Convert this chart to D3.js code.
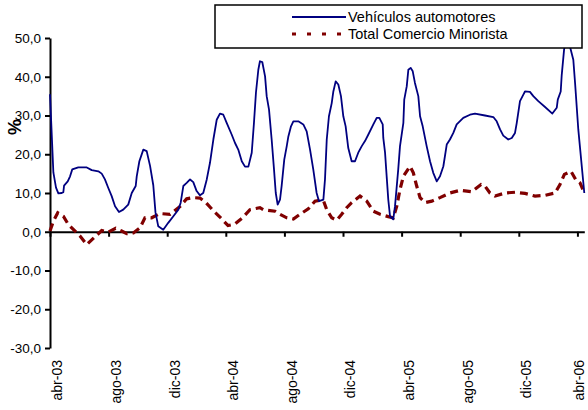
<!DOCTYPE html>
<html lang="es">
<head>
<meta charset="UTF-8">
<title>Vehículos automotores vs Total Comercio Minorista</title>
<script src="https://d3js.org/d3.v7.min.js"></script>
<style>
  body { margin: 0; background: #fff; }
  svg { display: block; font-family: Arial, "Liberation Sans", sans-serif; }
</style>
</head>
<body>
<div id="chart"></div>
<script>
// months counted from abr-03
const tickMonths = [0, 4, 8, 12, 16, 20, 24, 28, 32, 36];
const tickLabels = ["abr-03", "ago-03", "dic-03", "abr-04", "ago-04", "dic-04", "abr-05", "ago-05", "dic-05", "abr-06"];
const yTicks = [-30, -20, -10, 0, 10, 20, 30, 40, 50];

// Vehículos automotores: [month, %]
const vehiculos = [
  [0.00, 35.5], [0.23, 15.3], [0.41, 11.4], [0.57, 9.9], [0.80, 10.0], [0.91, 10.2], [0.96, 11.9],
  [1.21, 13.0], [1.37, 14.3], [1.52, 16.1], [1.93, 16.6], [2.51, 16.6], [2.85, 15.9], [3.30, 15.6],
  [3.53, 15.0], [3.75, 13.5], [3.98, 11.3], [4.21, 9.2], [4.44, 6.6], [4.71, 5.1], [5.00, 5.7],
  [5.34, 7.0], [5.58, 10.0], [5.85, 11.8], [5.92, 14.3], [6.10, 18.2], [6.37, 21.2], [6.60, 20.8],
  [6.83, 17.0], [7.05, 12.0], [7.20, 5.0], [7.39, 1.4], [7.73, 0.5], [8.07, 2.3], [8.42, 4.0],
  [8.76, 5.7], [8.92, 7.5], [9.10, 11.8], [9.33, 12.6], [9.56, 13.5], [9.78, 12.8], [10.01, 10.5],
  [10.24, 9.4], [10.46, 10.0], [10.70, 13.5], [10.92, 17.8], [11.15, 23.8], [11.38, 28.9],
  [11.60, 30.5], [11.83, 30.2], [12.06, 28.1], [12.40, 25.1], [12.63, 22.9], [12.85, 21.2],
  [13.09, 18.2], [13.31, 16.8], [13.54, 16.8], [13.77, 20.4], [13.92, 28.0], [14.06, 36.0],
  [14.22, 41.8], [14.33, 44.0], [14.49, 43.8], [14.68, 40.1], [14.79, 35.0], [14.95, 31.5],
  [15.13, 23.8], [15.29, 16.1], [15.41, 10.0], [15.54, 7.0], [15.70, 8.3], [15.81, 11.8],
  [15.99, 18.6], [16.16, 22.1], [16.27, 24.6], [16.45, 27.2], [16.61, 28.5], [16.95, 28.5],
  [17.29, 27.7], [17.52, 25.9], [17.75, 21.2], [17.97, 16.1], [18.20, 10.0], [18.36, 7.9],
  [18.66, 8.3], [18.77, 13.5], [18.89, 23.8], [19.04, 29.8], [19.23, 33.2], [19.34, 36.2],
  [19.50, 38.8], [19.68, 38.0], [19.86, 35.0], [20.02, 29.8], [20.18, 27.2], [20.36, 21.6],
  [20.59, 18.2], [20.82, 18.2], [21.04, 20.4], [21.28, 22.1], [21.50, 23.4], [21.73, 25.1],
  [22.07, 27.7], [22.30, 29.4], [22.48, 29.4], [22.71, 27.7], [22.75, 24.2], [22.87, 20.4],
  [22.98, 14.3], [23.09, 8.3], [23.21, 4.0], [23.43, 3.2], [23.55, 6.6], [23.77, 16.1],
  [23.89, 22.1], [24.12, 28.1], [24.18, 34.1], [24.35, 37.5], [24.46, 41.8], [24.62, 42.3],
  [24.76, 41.4], [24.91, 38.4], [25.14, 35.0], [25.26, 29.8], [25.44, 27.2], [25.71, 22.1],
  [25.94, 18.2], [26.16, 15.2], [26.40, 13.0], [26.62, 14.3], [26.85, 16.9], [27.08, 22.5],
  [27.30, 23.8], [27.53, 25.5], [27.76, 27.7], [28.21, 29.4], [28.67, 30.2], [29.01, 30.5],
  [29.69, 30.0], [30.26, 29.6], [30.49, 28.5], [30.72, 26.4], [30.94, 24.8], [31.28, 23.8],
  [31.52, 24.2], [31.74, 25.5], [31.86, 28.1], [32.08, 33.7], [32.31, 35.4], [32.42, 36.2],
  [32.76, 36.1], [32.99, 35.0], [33.33, 33.7], [33.79, 32.2], [34.29, 30.5], [34.59, 32.0],
  [34.66, 34.1], [34.86, 36.2], [34.93, 40.5], [35.09, 47.0], [35.29, 50.5], [35.49, 47.8],
  [35.72, 44.4], [35.84, 38.4], [36.06, 26.4], [36.47, 10.0]
];

// Total Comercio Minorista: [month, %]
const minorista = [
  [0.00, 0.2], [0.23, 2.7], [0.53, 4.9], [0.91, 4.0], [1.25, 1.9], [1.59, 0.6], [2.05, -1.1],
  [2.51, -3.3], [3.02, -1.5], [3.53, 0.3], [3.98, -0.1], [4.48, 0.9], [4.89, 0.2], [5.24, -0.5],
  [5.69, -0.3], [6.14, 1.0], [6.48, 3.6], [6.94, 3.6], [7.51, 4.7], [8.19, 4.5], [8.87, 6.5],
  [9.33, 8.5], [9.76, 8.8], [10.24, 8.7], [10.65, 7.5], [11.13, 5.5], [11.60, 3.8], [12.15, 1.6],
  [12.63, 2.0], [13.17, 3.7], [13.65, 5.7], [14.33, 6.2], [14.56, 5.7], [15.36, 5.3], [15.70, 4.5],
  [16.16, 3.6], [16.61, 3.3], [17.06, 4.5], [17.63, 5.9], [18.09, 7.9], [18.43, 8.1], [18.66, 8.1],
  [18.89, 5.7], [19.23, 3.6], [19.57, 3.0], [19.91, 4.5], [20.25, 6.2], [20.59, 7.5], [21.16, 9.2],
  [21.62, 7.9], [22.07, 5.3], [22.53, 4.5], [23.09, 3.9], [23.43, 3.6], [23.67, 6.6], [23.89, 10.9],
  [24.12, 14.3], [24.57, 16.9], [24.80, 15.2], [25.03, 11.8], [25.26, 8.8], [25.60, 7.5],
  [26.06, 7.9], [26.62, 8.8], [27.30, 10.0], [27.99, 10.7], [28.79, 10.3], [29.42, 12.2],
  [29.69, 11.8], [30.03, 10.0], [30.38, 9.2], [31.06, 10.0], [31.74, 10.2], [32.42, 9.9],
  [33.11, 9.2], [33.79, 9.4], [34.47, 10.0], [34.81, 12.2], [35.11, 14.8], [35.56, 15.6],
  [35.88, 13.5], [36.18, 12.6], [36.47, 10.0]
];

const width = 588, height = 410;
const blue = "#000080", red = "#800000";

const svg = d3.select("#chart").append("svg")
  .attr("width", width)
  .attr("height", height);

const x = d3.scaleLinear().domain([0, 36.47]).range([50, 584.3]);
const y = d3.scaleLinear().domain([-30, 50]).range([348, 38]);

const fmt = v => v.toFixed(1).replace(".", ",");

// y axis
const yAxis = svg.append("g")
  .attr("transform", `translate(${x(0)},0)`)
  .call(d3.axisLeft(y).tickValues(yTicks).tickFormat(fmt).tickSize(5).tickSizeOuter(0).tickPadding(4));
yAxis.select(".domain").attr("stroke", "#000").attr("stroke-width", 2);
yAxis.selectAll(".tick line").attr("stroke", "#000").attr("stroke-width", 2);
yAxis.selectAll(".tick text").attr("fill", "#000").style("font-size", "13.5px");

// x axis at zero
const xAxis = svg.append("g")
  .attr("transform", `translate(0,${y(0)})`)
  .call(d3.axisBottom(x).tickValues(tickMonths).tickFormat("").tickSize(5).tickSizeOuter(0));
xAxis.select(".domain").attr("stroke", "#000").attr("stroke-width", 2);
xAxis.selectAll(".tick line").attr("stroke", "#000").attr("stroke-width", 2);

// x labels at the bottom, rotated
svg.append("g").selectAll("text")
  .data(tickMonths)
  .join("text")
  .attr("transform", d => `translate(${Math.min(x(d) + 7.5, 579)},360) rotate(-90)`)
  .attr("text-anchor", "end")
  .attr("dy", "0.35em")
  .style("font-size", "14px")
  .text((d, i) => tickLabels[i]);

// y title
svg.append("text")
  .attr("transform", "translate(15,127) rotate(-90)")
  .attr("text-anchor", "middle")
  .attr("dy", "0.35em")
  .style("font-size", "18px")
  .style("font-weight", "bold")
  .text("%");

const line = d3.line().x(d => x(d[0])).y(d => y(d[1]));

svg.append("path")
  .datum(minorista)
  .attr("fill", "none")
  .attr("stroke", red)
  .attr("stroke-width", 3.2)
  .attr("stroke-dasharray", "8,5")
  .attr("d", line);

svg.append("path")
  .datum(vehiculos)
  .attr("fill", "none")
  .attr("stroke", blue)
  .attr("stroke-width", 1.8)
  .attr("stroke-linejoin", "round")
  .attr("d", line);

// legend
const legend = svg.append("g");
legend.append("rect")
  .attr("x", 215).attr("y", 5)
  .attr("width", 367).attr("height", 43)
  .attr("fill", "#fff")
  .attr("stroke", "#000")
  .attr("stroke-width", 1.5);

const legendItems = [
  { label: "Vehículos automotores", color: blue, w: 1.8, dash: null, y: 17 },
  { label: "Total Comercio Minorista", color: red, w: 3, dash: "4,11", y: 34 }
];
legendItems.forEach(it => {
  legend.append("line")
    .attr("x1", 292).attr("x2", 346)
    .attr("y1", it.y).attr("y2", it.y)
    .attr("stroke", it.color)
    .attr("stroke-width", it.w)
    .attr("stroke-dasharray", it.dash);
  legend.append("text")
    .attr("x", 348).attr("y", it.y)
    .attr("dy", "0.35em")
    .style("font-size", "14.5px")
    .text(it.label);
});
</script>
</body>
</html>
